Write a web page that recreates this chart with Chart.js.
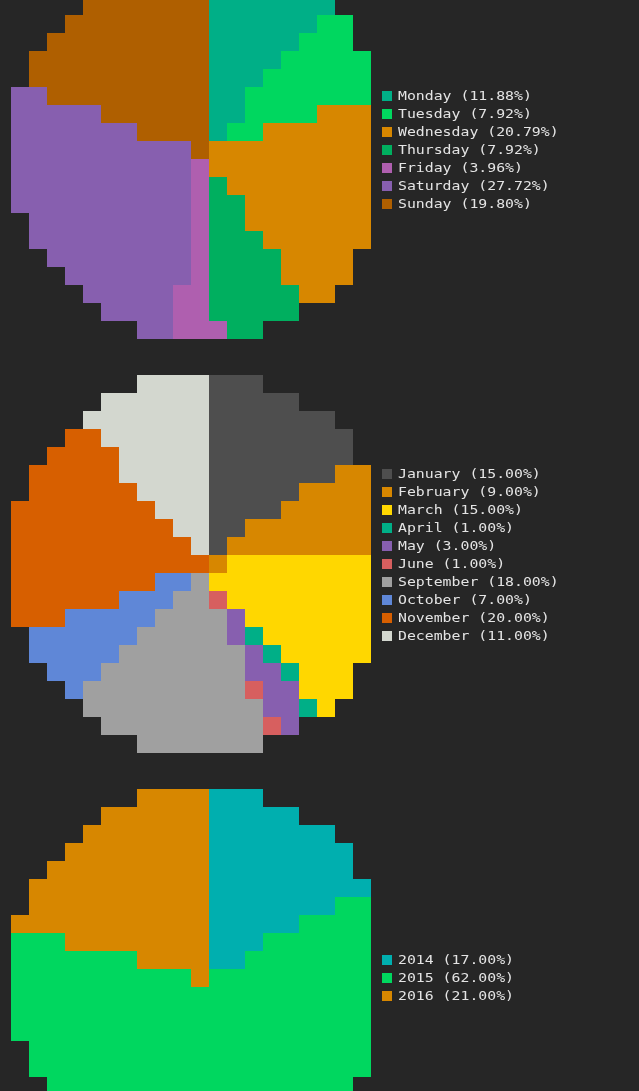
<!DOCTYPE html>
<html>
<head>
<meta charset="utf-8">
<script src="https://cdn.jsdelivr.net/npm/chart.js@4/dist/chart.umd.min.js"></script>
<style>
  html, body { margin: 0; padding: 0; background: #262626; }
  #page { position: relative; width: 639px; height: 1091px; overflow: hidden; background: #262626; }
  canvas.pie { position: absolute; }
  .legend { position: absolute; left: 382px; z-index: 2; }
  .item { position: relative; height: 18px; line-height: 18px; white-space: pre;
          font-family: "DejaVu Sans Mono", monospace; font-size: 12px; color: #e4e4e4; }
  .sw { position: absolute; left: 0; top: 4px; width: 10px; height: 10px; }
  .tx { position: absolute; left: 16px; top: 0; transform: scaleX(1.235); transform-origin: 0 50%; }
</style>
</head>
<body>
<div id="page"></div>
<script>
// ---- data ----
const dayLabels = ['Monday', 'Tuesday', 'Wednesday', 'Thursday', 'Friday', 'Saturday', 'Sunday'];
const dayValues = [12, 8, 21, 8, 4, 28, 20];
const dayColors = ['#00af87', '#00d75f', '#d78700', '#00af5f', '#af5faf', '#875faf', '#af5f00'];

const monthLabels = ['January', 'February', 'March', 'April', 'May', 'June', 'September', 'October', 'November', 'December'];
const monthValues = [15, 9, 15, 1, 3, 1, 18, 7, 20, 11];
const monthColors = ['#4e4e4e', '#d78700', '#ffd700', '#00af87', '#875faf', '#d75f5f', '#a0a0a0', '#5f87d7', '#d75f00', '#d3d7cf'];

const yearLabels = ['2014', '2015', '2016'];
const yearValues = [17, 62, 21];
const yearColors = ['#00afaf', '#00d75f', '#d78700'];

// ---- layout (style) ----
const CELL = 18, GX = -7, GY = -3;     // page-wide block grid
const CLIP_RIGHT = 371;                // plot area right edge
const SIZE = 421, RADIUS = 191;
const pies = [
  { labels: dayLabels, values: dayValues, colors: dayColors, cx: 201.5, cy: 150.5, legendTop: 87 },
  { labels: monthLabels, values: monthValues, colors: monthColors, cx: 201.5, cy: 564.5, legendTop: 465 },
  { labels: yearLabels, values: yearValues, colors: yearColors, cx: 201.5, cy: 978.5, legendTop: 951 }
];

function hexToRgb(h) {
  const n = parseInt(h.slice(1), 16);
  return [(n >> 16) & 255, (n >> 8) & 255, n & 255];
}

// Block-mosaic plugin: samples the library-drawn pie around each grid cell centre
const mosaic = {
  id: 'mosaic',
  afterDraw(chart, args, opts) {
    const ctx = chart.ctx;
    const w = chart.canvas.width, h = chart.canvas.height;
    const data = ctx.getImageData(0, 0, w, h).data;
    const pal = opts.colors.map(hexToRgb);
    const ox = opts.left, oy = opts.top;
    ctx.save();
    ctx.setTransform(1, 0, 0, 1, 0, 0);
    ctx.clearRect(0, 0, w, h);
    const i0 = Math.floor((ox - GX) / CELL) - 1, i1 = Math.ceil((ox + w - GX) / CELL) + 1;
    const j0 = Math.floor((oy - GY) / CELL) - 1, j1 = Math.ceil((oy + h - GY) / CELL) + 1;
    for (let j = j0; j <= j1; j++) {
      for (let i = i0; i <= i1; i++) {
        const px = GX + i * CELL, py = GY + j * CELL;
        if (px + CELL > opts.clipRight) continue;
        const cxs = Math.floor(px + 8.5 - ox), cys = Math.floor(py + 8.5 - oy);
        if (cxs < 1 || cys < 1 || cxs >= w - 1 || cys >= h - 1) continue;
        const kc = (cys * w + cxs) * 4;
        if (data[kc + 3] < 128) continue;
        const votes = new Array(pal.length).fill(0);
        for (let dy = -1; dy <= 1; dy++) {
          for (let dx = -1; dx <= 1; dx++) {
            const k = ((cys + dy) * w + (cxs + dx)) * 4;
            if (data[k + 3] < 200) continue;
            let best = -1, bd = Infinity;
            for (let p = 0; p < pal.length; p++) {
              const d = (pal[p][0] - data[k]) ** 2 + (pal[p][1] - data[k + 1]) ** 2 + (pal[p][2] - data[k + 2]) ** 2;
              if (d < bd) { bd = d; best = p; }
            }
            votes[best] += (bd < 300 ? 3 : 1);
          }
        }
        let best = 0;
        for (let p = 1; p < pal.length; p++) if (votes[p] > votes[best]) best = p;
        ctx.fillStyle = opts.colors[best];
        ctx.fillRect(px - ox, py - oy, CELL, CELL);
      }
    }
    ctx.restore();
  }
};

const page = document.getElementById('page');
pies.forEach(p => {
  const cv = document.createElement('canvas');
  cv.className = 'pie';
  cv.width = SIZE; cv.height = SIZE;
  const left = p.cx - SIZE / 2, top = p.cy - SIZE / 2;
  cv.style.left = left + 'px'; cv.style.top = top + 'px';
  cv.style.width = SIZE + 'px'; cv.style.height = SIZE + 'px';
  page.appendChild(cv);

  new Chart(cv, {
    type: 'pie',
    data: {
      labels: p.labels,
      datasets: [{ data: p.values, backgroundColor: p.colors, borderWidth: 0, hoverOffset: 0 }]
    },
    options: {
      responsive: false,
      devicePixelRatio: 1,
      animation: false,
      events: [],
      radius: RADIUS,
      layout: { padding: 0 },
      plugins: {
        legend: { display: false },
        tooltip: { enabled: false },
        mosaic: { colors: p.colors, left: left, top: top, clipRight: CLIP_RIGHT }
      }
    },
    plugins: [mosaic]
  });

  const total = p.values.reduce((a, b) => a + b, 0);
  const lg = document.createElement('div');
  lg.className = 'legend';
  lg.style.top = p.legendTop + 'px';
  p.labels.forEach((lab, i) => {
    const it = document.createElement('div');
    it.className = 'item';
    const sw = document.createElement('span');
    sw.className = 'sw';
    sw.style.background = p.colors[i];
    const tx = document.createElement('span');
    tx.className = 'tx';
    tx.textContent = lab + ' (' + (p.values[i] / total * 100).toFixed(2) + '%)';
    it.appendChild(sw); it.appendChild(tx);
    lg.appendChild(it);
  });
  page.appendChild(lg);
});
</script>
</body>
</html>
